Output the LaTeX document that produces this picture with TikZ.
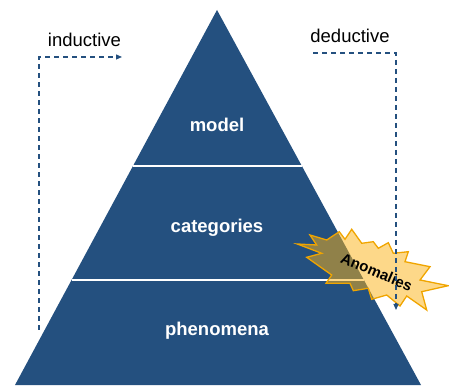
\documentclass[tikz,border=0pt]{standalone}
\usepackage{fontspec}
\setmainfont{Liberation Sans}
\usetikzlibrary{calc,arrows.meta}
\definecolor{pyrblue}{RGB}{36,80,127}
\definecolor{burstfill}{RGB}{252,178,20}
\definecolor{burstedge}{RGB}{240,165,0}
\tikzset{
  layer/.style={text=white,font=\fontsize{18.5}{20}\selectfont\bfseries},
  caption/.style={text=black,font=\fontsize{18.5}{20}\selectfont},
  flow/.style={draw=pyrblue,line width=1.2pt,dash pattern=on 5pt off 4pt,
    -{Triangle[length=6pt,width=5pt]}},
  divider/.style={draw=white,line width=1.6pt},
  burst/.style={fill=burstfill,fill opacity=0.5,draw=burstedge,line width=1.3pt,
    line join=miter},
}
\begin{document}
\begin{tikzpicture}[x=1pt,y=1pt]
\useasboundingbox (0,0) rectangle (449,385);
\begin{scope}
\clip (0,0) rectangle (449,385);
% pyramid
\coordinate (apex) at (217,375);
\coordinate (bl) at (15,0);
\coordinate (br) at (421,0);
\fill[pyrblue] (apex) -- (bl) -- (br) -- cycle;
% layer dividers
\draw[divider] ($(apex)!0.416!(bl)$) -- ($(apex)!0.416!(br)$);
\draw[divider] ($(apex)!0.72!(bl)$) -- ($(apex)!0.72!(br)$);
\node[layer] (model) at (217,260) {model};
\node[layer] (categories) at (217,157) {categories};
\node[layer] (phenomena) at (217,54) {phenomena};
% anomaly burst
\draw[burst] (297.3,141) -- (316.7,140) -- (310,150) -- (326.7,145) -- (339.3,153.3)
  -- (345,145.7) -- (351.7,155.7) -- (361.7,141.7) -- (373.3,143.3) -- (378.3,136.7)
  -- (388.3,142.3) -- (393.3,131.7) -- (408.3,133.3) -- (405,123.3) -- (430,118.3)
  -- (420,105) -- (448.3,99.3) -- (421.7,93.3) -- (426.7,75) -- (406.7,89)
  -- (400,79) -- (386.7,90) -- (371.7,85.7) -- (368.3,96.7) -- (353.3,94.3)
  -- (350,101.7) -- (326,101.7) -- (331.7,110) -- (306.7,127.7) -- (321.7,131.7)
  -- cycle;
\node[rotate=-23,inner sep=0pt,font=\fontsize{15}{16}\selectfont\bfseries] (anomalies)
  at (376.7,113) {Anomalies};
% reasoning directions
\node[caption] (inductive) at (84.5,345) {inductive};
\node[caption] (deductive) at (350,349) {deductive};
\coordinate (indstart) at (39,55);
\coordinate (indend) at (122,328);
\coordinate (dedstart) at (313,332);
\coordinate (dedend) at (396,75);
\draw[flow] (indstart) |- (indend);
\draw[flow] (dedstart) -| (dedend);
\end{scope}
\end{tikzpicture}
\end{document}
